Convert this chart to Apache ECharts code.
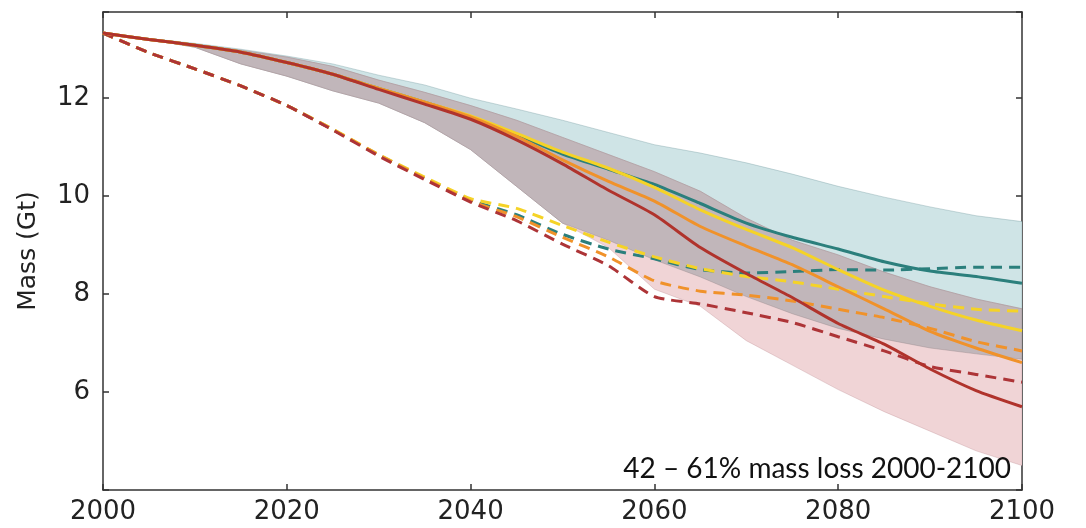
<!DOCTYPE html>
<html>
<head>
<meta charset="utf-8">
<script src="https://cdn.jsdelivr.net/npm/echarts@6/dist/echarts.min.js"></script>
<style>html,body{margin:0;padding:0;background:#fff}#c{width:1086px;height:528px}</style>
</head>
<body>
<div id="c"></div>
<script>
const years = [2000,2005,2010,2015,2020,2025,2030,2035,2040,2045,2050,2055,2060,2065,2070,2075,2080,2085,2090,2095,2100];

// solid lines
const tealSolid   = [13.33,13.20,13.08,12.94,12.73,12.49,12.20,11.92,11.62,11.25,10.86,10.55,10.24,9.85,9.45,9.16,8.92,8.66,8.47,8.36,8.22];
const yellowSolid = [13.33,13.20,13.08,12.94,12.73,12.49,12.20,11.92,11.64,11.28,10.90,10.57,10.18,9.72,9.32,8.95,8.50,8.08,7.75,7.47,7.25];
const orangeSolid = [13.33,13.20,13.08,12.94,12.73,12.49,12.20,11.92,11.62,11.22,10.74,10.30,9.90,9.38,8.98,8.60,8.15,7.70,7.24,6.90,6.60];
const redSolid    = [13.33,13.20,13.08,12.94,12.73,12.49,12.18,11.88,11.57,11.15,10.66,10.12,9.62,8.95,8.42,7.93,7.40,6.98,6.47,6.03,5.70];

// dashed lines
const tealDash   = [13.33,12.93,12.60,12.25,11.85,11.36,10.84,10.37,9.92,9.62,9.22,8.92,8.72,8.50,8.43,8.46,8.50,8.49,8.52,8.55,8.55];
const yellowDash = [13.33,12.93,12.60,12.25,11.85,11.37,10.85,10.39,9.95,9.75,9.40,9.06,8.76,8.52,8.36,8.25,8.10,7.95,7.80,7.69,7.65];
const orangeDash = [13.33,12.93,12.60,12.25,11.85,11.36,10.84,10.36,9.90,9.58,9.16,8.76,8.27,8.06,7.98,7.86,7.69,7.52,7.30,7.03,6.84];
const redDash    = [13.33,12.93,12.60,12.25,11.85,11.35,10.82,10.34,9.88,9.50,9.02,8.58,7.95,7.80,7.62,7.42,7.13,6.84,6.52,6.36,6.20];

// uncertainty bands
const tealHi = [13.33,13.22,13.12,13.00,12.86,12.70,12.47,12.27,12.00,11.78,11.55,11.30,11.05,10.88,10.68,10.45,10.20,9.98,9.78,9.60,9.48];
const tealLo = [13.33,13.20,13.04,12.70,12.45,12.15,11.90,11.50,10.95,10.20,9.45,9.10,8.70,8.35,7.95,7.60,7.30,7.08,6.90,6.78,6.67];
const redHi  = [13.33,13.22,13.10,12.98,12.84,12.65,12.37,12.12,11.85,11.55,11.20,10.85,10.50,10.10,9.55,9.10,8.80,8.45,8.15,7.90,7.70];
const redLo  = [13.33,13.20,13.04,12.70,12.45,12.15,11.90,11.50,10.95,10.20,9.45,8.95,8.10,7.75,7.05,6.55,6.05,5.60,5.20,4.80,4.50];

const yTicks = [6,8,10,12];
const xTicks = [2000,2020,2040,2060,2080,2100];
const noteText = '42 – 61% mass loss 2000-2100';
const yName = 'Mass (Gt)';

const pts = arr => arr.map((v,i)=>[years[i], v]);
const grayLo = tealLo.map((v,i)=>Math.max(v, redLo[i]));
const grayHi = tealHi.map((v,i)=>Math.min(v, redHi[i]));

function band(name, lo, hi, color, edge, z){
  return {
    name:name, type:'custom', silent:true, z:z, clip:true,
    data:[[years[0], hi[0]]],
    renderItem:function(params, api){
      const top = hi.map((v,i)=>api.coord([years[i], v]));
      const bot = lo.map((v,i)=>api.coord([years[i], v])).reverse();
      return {type:'polygon', shape:{points: top.concat(bot)},
        style:{fill:color, stroke:edge, lineWidth:1}};
    }
  };
}
function line(name, arr, color, dashed, z){
  return {name:name, type:'line', data:pts(arr), symbol:'none', smooth:0.2,
    lineStyle:{color:color, width:3, type: dashed ? [11,7] : 'solid', cap:'butt'}, z:z};
}

const axisLine = {show:true, lineStyle:{color:'#333', width:1.5}};
const tick = {show:true, inside:true, length:6, lineStyle:{color:'#333', width:1.5}};
const labelFont = {fontFamily:"'DejaVu Sans', sans-serif", fontSize:26, color:'#222'};

const option = {
  animation:false,
  grid:{left:103, right:64, top:12, bottom:38},
  xAxis:[
    {type:'value', min:2000, max:2100, interval:20, axisLine:axisLine, axisTick:tick, splitLine:{show:false},
     axisLabel:Object.assign({margin:9, formatter:v=>xTicks.includes(v)?String(v):''}, labelFont)},
    {type:'value', position:'top', min:2000, max:2100, interval:20, axisLine:axisLine, axisTick:tick,
     splitLine:{show:false}, axisLabel:{show:false}}
  ],
  yAxis:[
    {type:'value', min:4, max:13.76, interval:2, axisLine:axisLine, axisTick:tick, splitLine:{show:false},
     axisLabel:Object.assign({margin:13, formatter:v=>yTicks.includes(v)?String(v):''}, labelFont),
     name:yName, nameLocation:'middle', nameGap:62, nameRotate:90,
     nameTextStyle:{fontFamily:"'DejaVu Sans', sans-serif", fontSize:25, color:'#222'}},
    {type:'value', position:'right', min:4, max:13.76, interval:2, axisLine:axisLine, axisTick:tick,
     splitLine:{show:false}, axisLabel:{show:false}}
  ],
  graphic:[{type:'text', right:75, top:455, z:100,
    style:{text:noteText, font:'28px Lato', fill:'#111'}}],
  series:[
    band('tealBand', tealLo, tealHi, '#cfe4e6', 'rgba(110,150,155,0.35)', 1),
    band('redBand', redLo, redHi, '#f0d4d6', 'rgba(190,140,145,0.35)', 2),
    band('grayBand', grayLo, grayHi, '#c1b6ba', 'rgba(140,125,130,0.35)', 3),
    line('tealD', tealDash, '#2b7f7c', true, 5),
    line('yellowD', yellowDash, '#f5d327', true, 5),
    line('orangeD', orangeDash, '#f0922a', true, 5),
    line('redD', redDash, '#ad3437', true, 5),
    line('teal', tealSolid, '#2b7f7c', false, 6),
    line('yellow', yellowSolid, '#f5d327', false, 6),
    line('orange', orangeSolid, '#f0922a', false, 6),
    line('red', redSolid, '#b0332c', false, 6)
  ]
};
echarts.init(document.getElementById('c')).setOption(option);
</script>
</body>
</html>
